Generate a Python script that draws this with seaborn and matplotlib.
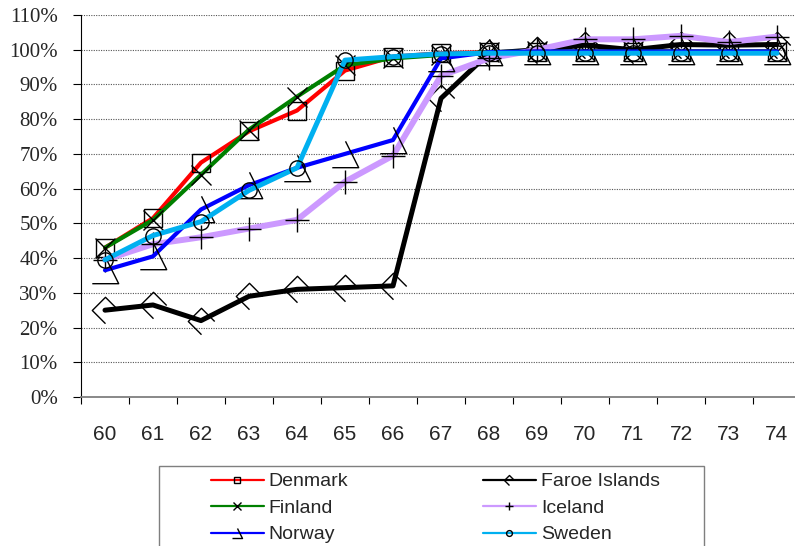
import numpy as np
import pandas as pd
import matplotlib
matplotlib.use("Agg")
import matplotlib.pyplot as plt
from matplotlib.path import Path
from matplotlib.lines import Line2D
from matplotlib.patches import Rectangle
import seaborn as sns

# Share of the cohort (percent) by year, 1960-1974
years = list(range(60, 75))
year_labels = [str(y) for y in years]

denmark = [43, 51.5, 67.5, 76.5, 82.5, 94, 98, 99, 99.3, 99.4, 99.4, 99.4, 99.4, 99.4, 99.4]
faroe = [25, 26.5, 22, 29, 31, 31.5, 32, 86, 99, 100, 101.3, 100, 101.5, 101.3, 101.5]
finland = [43, 51, 64, 77, 86.5, 95.5, 97.5, 98.5, 99.3, 99.5, 99.5, 99.5, 99.5, 99.5, 99.5]
iceland = [39.5, 44, 46, 48.5, 51, 62, 69.5, 92.5, 97.5, 100, 103, 103, 104, 102.2, 103.8]
norway = [36.5, 40.5, 54, 61, 66, 70, 74, 97.5, 99.3, 99.5, 99.5, 99.5, 99.5, 99.5, 99.5]
sweden = [39.5, 46.5, 50.5, 59.5, 66, 97, 98, 98.8, 99, 99, 99, 99, 99, 99, 99]

countries = ["Denmark", "Faroe Islands", "Finland", "Iceland", "Norway", "Sweden"]
values = [denmark, faroe, finland, iceland, norway, sweden]

df = pd.DataFrame({
    "year": np.tile(years, len(countries)),
    "country": np.repeat(countries, len(years)),
    "share": np.concatenate(values),
})

# Open outline markers
tri_open = Path([(0, 1), (1, -1), (-1, -1)], [Path.MOVETO, Path.LINETO, Path.LINETO])
dia_open = Path([(1, 0), (0, 1), (-1, 0), (0, -1)],
                [Path.MOVETO, Path.LINETO, Path.LINETO, Path.LINETO])

style = {
    "Denmark":       dict(color="#FF0000", lw=3.0, marker="s", ms=13),
    "Faroe Islands": dict(color="#000000", lw=3.6, marker=dia_open, ms=19),
    "Finland":       dict(color="#008000", lw=3.0, marker="x", ms=15),
    "Iceland":       dict(color="#CC99FF", lw=4.3, marker="+", ms=17),
    "Norway":        dict(color="#0000FF", lw=3.0, marker=tri_open, ms=19),
    "Sweden":        dict(color="#00B0F0", lw=3.6, marker="o", ms=11),
}

sns.set_theme(style="white")
plt.rcParams["font.family"] = ["Liberation Sans", "DejaVu Sans"]

fig = plt.figure(figsize=(7.95, 5.46), dpi=100)
W, H = 795, 546
ax = fig.add_axes([81 / W, 1 - 397 / H, (801 - 81) / W, (397 - 15) / H])

for c in countries:
    s = style[c]
    sns.lineplot(data=df[df.country == c], x="year", y="share", ax=ax,
                 color=s["color"], linewidth=s["lw"], marker=s["marker"],
                 markersize=s["ms"], markerfacecolor="none",
                 markeredgecolor="black", markeredgewidth=1.0,
                 legend=False, zorder=3)

ax.set_xlim(59.5, 74.5)
ax.set_ylim(0, 110)
ax.set_xlabel("")
ax.set_ylabel("")

# y axis: percent labels in a serif face
yt = np.arange(0, 111, 10)
ax.set_yticks(yt)
ax.set_yticklabels([f"{v}%" for v in yt], fontfamily="Liberation Serif", fontsize=15)
ax.tick_params(axis="y", which="major", direction="out", length=5.8, width=0.8,
               color="black", pad=11, left=True)
for v in yt[1:]:
    ax.axhline(v, color="#555555", lw=0.8, ls=(0, (1, 1.2)), zorder=1)

# x axis: labels at categories, tick marks between them
ax.set_xticks(years)
ax.set_xticklabels(year_labels, fontsize=15)
ax.set_xticks(np.arange(59.5, 75, 1), minor=True)
ax.tick_params(axis="x", which="major", length=0, pad=20)
ax.tick_params(axis="x", which="minor", direction="out", length=5, width=0.8,
               color="black", bottom=True)

for side in ("top", "right"):
    ax.spines[side].set_visible(False)
ax.spines["left"].set_color("black")
ax.spines["left"].set_linewidth(0.8)
ax.spines["bottom"].set_color("#7f7f7f")
ax.spines["bottom"].set_linewidth(1.3)
ax.grid(False)

# Legend
handles = []
for c in countries:
    s = style[c]
    handles.append(Line2D([], [], color=s["color"], lw=1.6, marker=s["marker"],
                          ms=s["ms"] * 0.38, mfc="none", mec="black", mew=1.0))
order = [0, 2, 4, 1, 3, 5]
fig.legend([handles[i] for i in order], [countries[i] for i in order],
           loc="upper left", bbox_to_anchor=(201 / W, 1 - 463 / H),
           bbox_transform=fig.transFigure, ncol=2, frameon=False,
           borderpad=0, handlelength=2.73, handletextpad=0.26,
           columnspacing=6.9, labelspacing=0.46, fontsize=14)
fig.patches.append(Rectangle((159 / W, -0.1), (704 - 159) / W, 0.1 + 1 - 466 / H,
                             transform=fig.transFigure, fill=False,
                             edgecolor="#7f7f7f", lw=1.0))

fig.savefig("out.png", dpi=100)
